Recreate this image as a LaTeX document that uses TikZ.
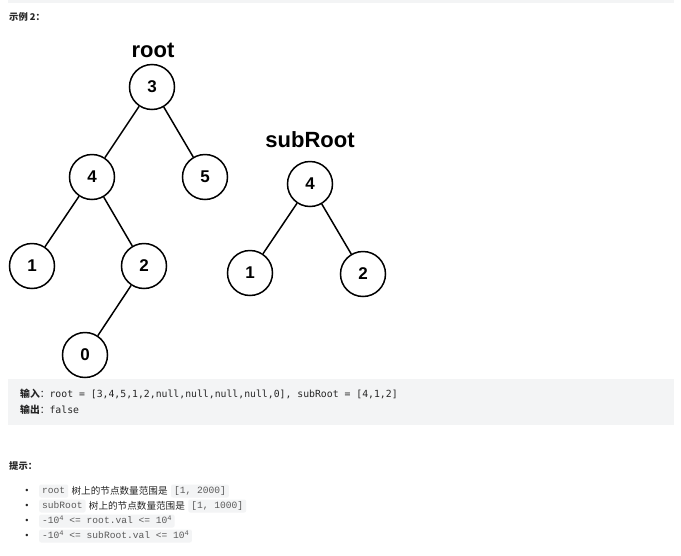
\documentclass[tikz,border=0pt]{standalone}
\usepackage{fontspec}
\setmainfont{Liberation Sans}
\newfontfamily\cjk{Noto Sans CJK SC}
\newfontfamily\blockmono{DejaVu Sans Mono}
\newfontfamily\inlinemono{Liberation Mono}
\usetikzlibrary{positioning}
\definecolor{panel}{HTML}{F3F4F5}
\definecolor{ink}{HTML}{262626}
\definecolor{codeink}{HTML}{5A5A5A}
\newcommand{\supfour}{\raisebox{3.4pt}{\fontsize{7}{7}\selectfont 4}}
\tikzset{
  tnode/.style={circle, draw, line width=1.5pt, minimum size=45pt, inner sep=0pt,
    font=\bfseries\fontsize{17}{17}\selectfont},
  tedge/.style={line width=1.5pt},
  tlabel/.style={anchor=base, font=\bfseries\fontsize{22}{22}\selectfont},
  heading/.style={anchor=west, inner sep=0pt, text=ink, font=\cjk\bfseries\fontsize{9.3}{9}\selectfont},
  codeline/.style={anchor=west, inner sep=0pt, text=ink, font=\blockmono\fontsize{9.8}{10}\selectfont},
  bulletdot/.style={inner sep=0pt, text=ink, font=\fontsize{9}{9}\selectfont},
  icode/.style={fill=panel, rounded corners=2pt, inner xsep=3pt, inner ysep=2pt,
    text height=7pt, text depth=2pt, text=codeink, anchor=west,
    font=\inlinemono\fontsize{9.6}{10}\selectfont},
  itext/.style={inner sep=0pt, text=ink, font=\cjk\fontsize{9.6}{10}\selectfont},
}
\begin{document}
\begin{tikzpicture}[x=1pt,y=-1pt,node distance=3pt]
\useasboundingbox (0,0) rectangle (681,555);
\fill[white] (0,0) rectangle (681,555);

% strip left over from the block above
\fill[panel] (8,0) rectangle (674,3);

\node[heading] (ex) at (9,17) {示例 2：};

% tree root
\node[tlabel] (rootlbl) at (153,57) {root};
\node[tnode] (r3) at (152,87) {3};
\node[tnode] (r4) at (92,177) {4};
\node[tnode] (r5) at (205,177) {5};
\node[tnode] (r1) at (32,266) {1};
\node[tnode] (r2) at (144,266) {2};
\node[tnode] (r0) at (85,355) {0};
\draw[tedge] (r3) -- (r4);
\draw[tedge] (r3) -- (r5);
\draw[tedge] (r4) -- (r1);
\draw[tedge] (r4) -- (r2);
\draw[tedge] (r2) -- (r0);

% tree subRoot
\node[tlabel] (sublbl) at (310,147) {subRoot};
\node[tnode] (s4) at (310,184) {4};
\node[tnode] (s1) at (250,273) {1};
\node[tnode] (s2) at (363,274) {2};
\draw[tedge] (s4) -- (s1);
\draw[tedge] (s4) -- (s2);

% input / output block
\fill[panel] (8,379) rectangle (674,425);
\node[codeline] (inp) at (20,394) {{\cjk\bfseries 输入}{\cjk ：}root = [3,4,5,1,2,null,null,null,null,0], subRoot = [4,1,2]};
\node[codeline] (outp) at (20,410) {{\cjk\bfseries 输出}{\cjk ：}false};

% hints
\node[heading] (hint) at (9,466) {提示：};

\node[bulletdot] (b1) at (27,491) {•};
\node[icode] (c1a) at (39,491) {root};
\node[itext, right=3pt of c1a] (t1) {树上的节点数量范围是};
\node[icode, right=3pt of t1] (c1b) {[1, 2000]};

\node[bulletdot] (b2) at (27,506) {•};
\node[icode] (c2a) at (39,506) {subRoot};
\node[itext, right=3pt of c2a] (t2) {树上的节点数量范围是};
\node[icode, right=3pt of t2] (c2b) {[1, 1000]};

\node[bulletdot] (b3) at (27,521) {•};
\node[icode] (c3) at (39,521) {-10\supfour{} <= root.val <= 10\supfour};

\node[bulletdot] (b4) at (27,536) {•};
\node[icode] (c4) at (39,536) {-10\supfour{} <= subRoot.val <= 10\supfour};
\end{tikzpicture}
\end{document}
